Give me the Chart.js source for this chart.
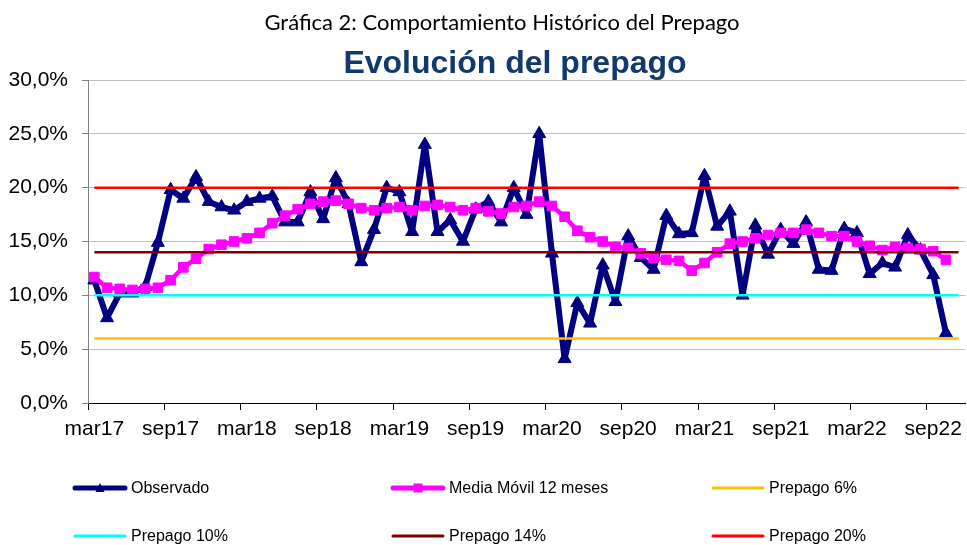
<!DOCTYPE html>
<html>
<head>
<meta charset="utf-8">
<script src="https://cdn.jsdelivr.net/npm/chart.js@4/dist/chart.umd.min.js"></script>
<style>
  html, body { margin: 0; padding: 0; background: #fff; }
  #wrap { position: relative; width: 967px; height: 545px; overflow: hidden; background: #fff; }
  #c { position: absolute; left: 0; top: 0; }
  #t1 { position: absolute; top: 11px; left: 502px; transform: translateX(-50%); white-space: nowrap;
        font-family: Lato, 'Noto Sans', sans-serif; font-size: 22px; line-height: 22px; color: #000; }
  #t2 { position: absolute; top: 46px; left: 515px; transform: translateX(-50%); white-space: nowrap;
        font-family: 'Liberation Sans', Arial, sans-serif; font-weight: bold; font-size: 32px; line-height: 32px; color: #12396B; }
  .lg { position: absolute; display: flex; align-items: center; height: 20px; white-space: nowrap;
        font-family: 'Liberation Sans', Arial, sans-serif; font-size: 16px; color: #000; }
  .lg svg { margin-right: 3px; }
</style>
</head>
<body>
<div id="wrap">
  <canvas id="c" width="967" height="545"></canvas>
  <div id="t1">Gráfica 2: Comportamiento Histórico del Prepago</div>
  <div id="t2">Evolución del prepago</div>
  <div id="legend"></div>
</div>
<script>
// ---- Data ----
const months = [
  'mar17','abr17','may17','jun17','jul17','ago17','sep17','oct17','nov17','dic17',
  'ene18','feb18','mar18','abr18','may18','jun18','jul18','ago18','sep18','oct18','nov18','dic18',
  'ene19','feb19','mar19','abr19','may19','jun19','jul19','ago19','sep19','oct19','nov19','dic19',
  'ene20','feb20','mar20','abr20','may20','jun20','jul20','ago20','sep20','oct20','nov20','dic20',
  'ene21','feb21','mar21','abr21','may21','jun21','jul21','ago21','sep21','oct21','nov21','dic21',
  'ene22','feb22','mar22','abr22','may22','jun22','jul22','ago22','sep22','oct22','nov22'
];
const tickLabels = ['mar17','sep17','mar18','sep18','mar19','sep19','mar20','sep20','mar21','sep21','mar22','sep22'];

const observado = [
  11.4, 7.9, 10.2, 10.2, 10.8, 14.9, 19.8, 19.0, 21.0, 18.7,
  18.2, 17.9, 18.7, 19.0, 19.2, 16.8, 16.8, 19.6, 17.1, 20.9, 18.5, 13.1,
  16.1, 20.0, 19.6, 15.9, 24.0, 15.9, 17.0, 15.0, 18.0, 18.7, 16.8, 20.0,
  17.5, 25.0, 13.9, 4.1, 9.3, 7.4, 12.8, 9.4, 15.5, 13.5, 12.4, 17.4,
  15.7, 15.8, 21.1, 16.4, 17.8, 10.0, 16.5, 13.8, 16.1, 14.8, 16.8, 12.4,
  12.3, 16.2, 15.8, 12.0, 13.0, 12.6, 15.6, 14.2, 11.9, 6.5, null
];
const mediaMovil = [
  11.7, 10.7, 10.6, 10.5, 10.6, 10.7, 11.4, 12.6, 13.4, 14.3,
  14.7, 15.0, 15.3, 15.8, 16.7, 17.4, 18.0, 18.5, 18.7, 18.8, 18.5, 18.1,
  17.9, 18.1, 18.2, 17.9, 18.3, 18.4, 18.2, 17.9, 18.1, 17.8, 17.6, 18.2,
  18.3, 18.7, 18.3, 17.3, 16.0, 15.4, 15.0, 14.5, 14.4, 13.9, 13.5, 13.3,
  13.2, 12.3, 13.0, 14.0, 14.8, 15.0, 15.3, 15.6, 15.8, 15.8, 16.1, 15.8,
  15.5, 15.5, 15.0, 14.6, 14.2, 14.5, 14.4, 14.3, 14.1, 13.3, null
];
const prepago6 = 6;
const prepago10 = 10;
const prepago14 = 14;
const prepago20 = 20;
const yTicks = [0, 5, 10, 15, 20, 25, 30];

// ---- Chart ----
const firstCat = months[0];
const lastCat = months[months.length - 1];
const flat = v => [{x: firstCat, y: v}, {x: lastCat, y: v}];

const datasets = [
  { label: 'Observado', data: observado, borderColor: '#000080', backgroundColor: '#000080',
    borderWidth: 6, borderJoinStyle: 'round', borderCapStyle: 'round',
    pointStyle: 'triangle', pointRadius: 7.5, pointBorderWidth: 1, order: 6, legendMarker: 'triangle' },
  { label: 'Media Móvil 12 meses', data: mediaMovil, borderColor: '#FF00FF', backgroundColor: '#FF00FF',
    borderWidth: 4.5, borderJoinStyle: 'round',
    pointStyle: 'rect', pointRadius: 6.8, pointBorderWidth: 1, order: 5, legendMarker: 'rect' },
  { label: 'Prepago 6%', data: flat(prepago6), borderColor: '#FFC000', backgroundColor: '#FFC000',
    borderWidth: 2.5, pointRadius: 0, order: 4 },
  { label: 'Prepago 10%', data: flat(prepago10), borderColor: '#00FFFF', backgroundColor: '#00FFFF',
    borderWidth: 2.5, pointRadius: 0, order: 3 },
  { label: 'Prepago 14%', data: flat(prepago14), borderColor: '#800000', backgroundColor: '#800000',
    borderWidth: 2.5, pointRadius: 0, order: 2 },
  { label: 'Prepago 20%', data: flat(prepago20), borderColor: '#FF0000', backgroundColor: '#FF0000',
    borderWidth: 2.5, pointRadius: 0, order: 1 }
];

Chart.defaults.font.family = "'Liberation Sans', Arial, sans-serif";
Chart.defaults.color = '#000';

const isLabelTick = i => i < months.length && tickLabels.includes(months[i]);

new Chart(document.getElementById('c'), {
  type: 'line',
  data: { labels: months, datasets: datasets },
  options: {
    responsive: false,
    animation: false,
    events: [],
    layout: { autoPadding: false, padding: { top: 80, left: 0, right: 2, bottom: 102 } },
    elements: { line: { tension: 0 } },
    plugins: { legend: { display: false }, title: { display: false }, tooltip: { enabled: false } },
    scales: {
      x: {
        type: 'category',
        offset: true,
        afterFit: s => { s.height = 40; s.paddingRight = 0; s.paddingLeft = 0; },
        grid: {
          display: true, drawOnChartArea: false, drawTicks: true, tickLength: 7, offset: true,
          tickColor: ctx => isLabelTick(ctx.index) ? '#000' : 'rgba(0,0,0,0)'
        },
        border: { display: true, color: '#000', width: 1 },
        ticks: {
          autoSkip: false, maxRotation: 0, minRotation: 0, padding: 7,
          font: { size: 21 }, color: '#000',
          callback: function(v, i) { const l = this.getLabelForValue(v); return tickLabels.includes(l) ? l : ''; }
        }
      },
      y: {
        min: 0, max: 30,
        afterFit: s => { s.width = 88; },
        afterBuildTicks: s => { s.ticks = yTicks.map(v => ({ value: v })); },
        grid: { color: '#C0C0C0', lineWidth: 1, tickLength: 6, tickColor: '#808080' },
        border: { display: true, color: '#808080', width: 1 },
        ticks: {
          padding: 14, font: { size: 21 }, color: '#000',
          callback: v => v.toFixed(1).replace('.', ',') + '%'
        }
      }
    }
  }
});

// ---- HTML legend built from datasets ----
const legendPos = [
  { left: 72, top: 478 }, { left: 390, top: 478 }, { left: 710, top: 478 },
  { left: 72, top: 526 }, { left: 390, top: 526 }, { left: 710, top: 526 }
];
const lgRoot = document.getElementById('legend');
datasets.forEach((ds, k) => {
  const d = document.createElement('div');
  d.className = 'lg';
  d.style.left = legendPos[k].left + 'px';
  d.style.top = legendPos[k].top + 'px';
  const w = 56, h = 20, cy = 10;
  let marker = '';
  if (ds.legendMarker === 'triangle') {
    marker = `<polygon points="${w/2-4.5},${cy+4} ${w/2+4.5},${cy+4} ${w/2},${cy-5}" fill="${ds.borderColor}"/>`;
  } else if (ds.legendMarker === 'rect') {
    marker = `<rect x="${w/2-4.5}" y="${cy-4.5}" width="9" height="9" fill="${ds.borderColor}"/>`;
  }
  const lw = ds.legendMarker ? 5 : 3;
  d.innerHTML = `<svg width="${w}" height="${h}"><line x1="3" y1="${cy}" x2="${w-3}" y2="${cy}" stroke="${ds.borderColor}" stroke-width="${lw}" stroke-linecap="round"/>${marker}</svg><span>${ds.label}</span>`;
  lgRoot.appendChild(d);
});
</script>
</body>
</html>
